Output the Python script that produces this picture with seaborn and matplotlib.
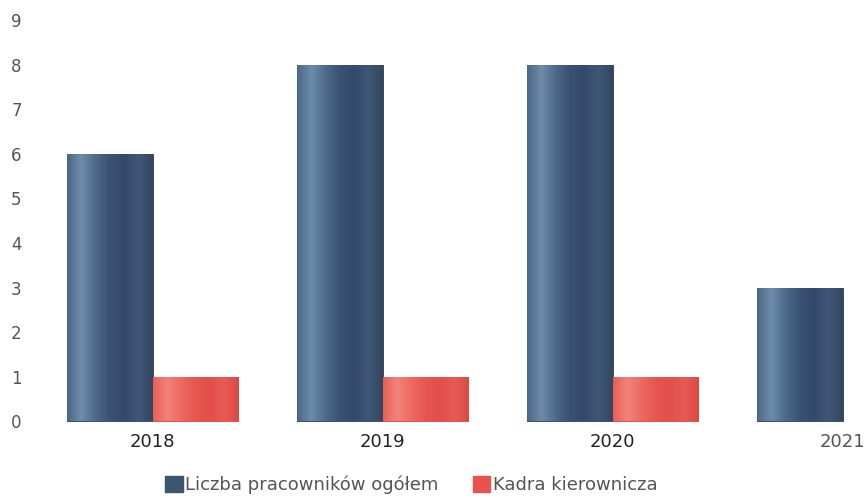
import numpy as np
import pandas as pd
import seaborn as sns
import matplotlib.pyplot as plt
from matplotlib.colors import LinearSegmentedColormap
from matplotlib.patches import Patch

years = ["2018", "2019", "2020", "2021"]
total_staff = [6, 8, 8, 3]
management = [1, 1, 1, 0]
series_names = ["Liczba pracowników ogółem", "Kadra kierownicza"]

df = pd.DataFrame({
    "rok": years * 2,
    "wartosc": total_staff + management,
    "seria": [series_names[0]] * len(years) + [series_names[1]] * len(years),
})

sns.set_theme(style="white")
plt.rcParams['font.family'] = ['DejaVu Sans']

blue = "#3b5470"
red = "#e8534f"

fig = plt.figure(figsize=(8.65, 4.99), dpi=100)
ax = fig.add_axes([30 / 865, (499 - 421.5) / 499, (865 - 30) / 865, (421.5 - 20) / 499])

sns.barplot(data=df, x="rok", y="wartosc", hue="seria", palette=[blue, red],
            width=0.74, ax=ax, legend=False, saturation=1)

# cylinder-like shading on each bar
shade_blue = LinearSegmentedColormap.from_list(
    "sb", ["#4b6786", "#6e8daa", "#4d6a88", "#3a5272", "#34496a", "#3f5877", "#324660"])
shade_red = LinearSegmentedColormap.from_list(
    "sr", ["#e95f56", "#f1837a", "#ec6a61", "#e6564f", "#e34f4b", "#e85b55", "#dc4842"])
grad = np.linspace(0, 1, 256).reshape(1, -1)
for i, p in enumerate(ax.patches):
    if p.get_height() <= 0:
        continue
    cmap = shade_blue if i < len(years) else shade_red
    x0, w, h = p.get_x(), p.get_width(), p.get_height()
    im = ax.imshow(grad, cmap=cmap, aspect="auto", extent=[x0, x0 + w, 0, h],
                   zorder=p.get_zorder() + 0.1)
    im.set_clip_path(p)
    p.set_edgecolor("#2c3c52" if i < len(years) else "#d94a45")
    p.set_linewidth(0.6)

ax.set_xlim((30 - 152.5) / 230, (865 - 152.5) / 230)
ax.set_ylim(0, 9)
ax.set_yticks(range(0, 10))
ax.set_xlabel("")
ax.set_ylabel("")
sns.despine(ax=ax, left=True, bottom=True)
ax.tick_params(axis="y", length=0, pad=6, labelsize=12, labelcolor="#555555")
ax.tick_params(axis="x", length=0, pad=8, labelsize=13, labelcolor="#222222")
for lbl in ax.get_xticklabels():
    if lbl.get_text() == "2021":
        lbl.set_color("#555555")
    else:
        lbl.set_fontweight("medium")

handles = [Patch(facecolor=blue, edgecolor=blue), Patch(facecolor=red, edgecolor=red)]
fig.legend(handles, series_names, loc="center", bbox_to_anchor=(411.5 / 865, 1 - 485 / 499),
           ncol=2, frameon=False, fontsize=13, handlelength=0.95, handleheight=0.95,
           handletextpad=0.15, columnspacing=1.9, labelcolor="#555555")

fig.savefig("out.png", dpi=100)
